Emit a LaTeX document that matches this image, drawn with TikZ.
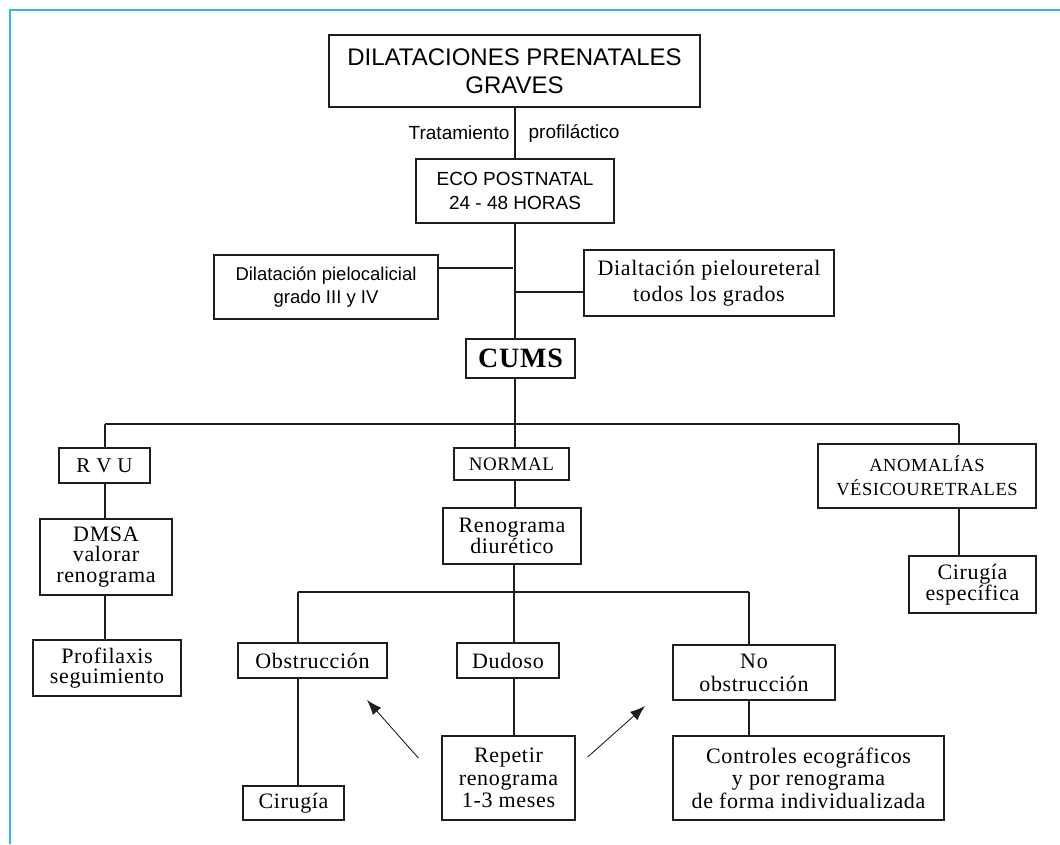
\documentclass[tikz,border=0pt]{standalone}
\usepackage{fontspec}
\setmainfont{Liberation Serif}
\setsansfont{Liberation Sans}
\newfontfamily\bmserif[LetterSpace=3]{Liberation Serif}
\usetikzlibrary{arrows.meta}
\definecolor{frameblue}{RGB}{51,181,229}
\definecolor{inkgray}{RGB}{30,30,30}
\tikzset{
  box/.style={draw=inkgray, line width=1.3pt, inner sep=0pt, align=center},
  sansbox/.style args={#1/#2}{box, font=\sffamily\fontsize{#1}{#2}\selectfont},
  serifbox/.style args={#1/#2}{box, font=\bmserif\fontsize{#1}{#2}\selectfont},
  link/.style={draw=inkgray, line width=1.3pt},
  hint/.style={draw=inkgray, line width=0.9pt, -{Latex[length=15pt,width=11pt]}}
}

\begin{document}
\begin{tikzpicture}[x=1pt,y=-1pt]
	\useasboundingbox (0,0) rectangle (1060,844);
	\draw[frameblue, line width=1.6pt] (10,844) -- (10,10) -- (1060,10);

	\node[sansbox=24/28, minimum width=371pt, minimum height=72pt] (Prenatal) at (514.5,71) {DILATACIONES PRENATALES\\GRAVES};
	\node[sansbox=19/24, minimum width=198pt, minimum height=64pt] (Eco) at (515,191) {ECO POSTNATAL\\24 - 48 HORAS};
	\node[sansbox=18.5/23, minimum width=224pt, minimum height=64pt] (Pielocalicial) at (326,287) {Dilatación pielocalicial\\grado III y IV};
	\node[serifbox=22/26, minimum width=250pt, minimum height=66pt] (Pieloureteral) at (709,283) {Dialtación pieloureteral\\todos los grados};
	\node[box, font=\bmserif\bfseries\fontsize{28}{30}\selectfont, minimum width=109pt, minimum height=39pt] (Cums) at (520.5,358.5) {CUMS};

	\node[serifbox=21/21, minimum width=91pt, minimum height=35pt] (Rvu) at (104.5,465.5) {R V U};
	\node[serifbox=19/21, minimum width=115pt, minimum height=32pt] (Normal) at (511.5,464) {NORMAL};
	\node[serifbox=18.5/24, minimum width=218pt, minimum height=64pt] (Anomalias) at (927,476) {ANOMALÍAS\\VÉSICOURETRALES};
	\node[serifbox=22/20.5, minimum width=132pt, minimum height=76pt] (Dmsa) at (106,557) {DMSA\\valorar\\renograma};
	\node[serifbox=22/20, minimum width=138pt, minimum height=56pt] (Renograma) at (512,536) {Renograma\\diurético};
	\node[serifbox=22/20, minimum width=127pt, minimum height=57pt] (CirugiaEsp) at (972.5,584.5) {Cirugía\\específica};
	\node[serifbox=22/20, minimum width=148pt, minimum height=56pt] (Profilaxis) at (107,668) {Profilaxis\\seguimiento};

	\node[serifbox=22/21, minimum width=149pt, minimum height=35pt] (Obstruccion) at (312.5,660.5) {Obstrucción};
	\node[serifbox=22/21, minimum width=102pt, minimum height=35pt] (Dudoso) at (508,660.5) {Dudoso};
	\node[serifbox=22/23, minimum width=162pt, minimum height=55pt] (NoObstruccion) at (754,672.5) {No\\obstrucción};
	\node[serifbox=22/21, minimum width=101pt, minimum height=34pt] (Cirugia) at (293.5,803) {Cirugía};
	\node[serifbox=22/22.5, minimum width=133pt, minimum height=84pt] (Repetir) at (508.5,778) {Repetir\\renograma\\1-3 meses};
	\node[serifbox=22/22.5, minimum width=271pt, minimum height=84pt] (Controles) at (808.5,778) {Controles ecográficos\\y por renograma\\de forma individualizada};

	\coordinate (JoinL) at (513,268);
	\coordinate (JoinR) at (515,292);
	\coordinate (BusLeft) at (105,424);
	\coordinate (BusMid) at (515,424);
	\coordinate (BusRight) at (959,424);
	\coordinate (SubLeft) at (298,592);
	\coordinate (SubMid) at (514,592);
	\coordinate (SubRight) at (749,592);
	\coordinate (TipL) at (367,700);
	\coordinate (TipR) at (645,706);

	\draw[link] (Prenatal.south -| Eco.north) -- node[anchor=east, inner sep=0pt, xshift=-5pt, font=\sffamily\fontsize{19}{23}\selectfont] (Trat) {Tratamiento} node[anchor=west, inner sep=0pt, xshift=13pt, font=\sffamily\fontsize{19}{23}\selectfont] (Prof) {profiláctico} (Eco.north);
	\draw[link] (Eco.south) -- (Eco.south |- Cums.north);
	\draw[link] (Pielocalicial.east |- JoinL) -- (JoinL);
	\draw[link] (JoinR) -- (JoinR -| Pieloureteral.west);

	\draw[link] (Cums.south -| BusMid) -- (BusMid);
	\draw[link] (BusLeft) -- (BusRight);
	\draw[link] (BusLeft) -- (Rvu.north -| BusLeft);
	\draw[link] (BusMid) -- (Normal.north -| BusMid);
	\draw[link] (BusRight) -- (Anomalias.north -| BusRight);
	\draw[link] (Rvu.south -| BusLeft) -- (Dmsa.north -| BusLeft);
	\draw[link] (Dmsa.south -| BusLeft) -- (Profilaxis.north -| BusLeft);
	\draw[link] (Normal.south -| BusMid) -- (Renograma.north -| BusMid);
	\draw[link] (Anomalias.south -| BusRight) -- (CirugiaEsp.north -| BusRight);

	\draw[link] (Renograma.south -| SubMid) -- (SubMid);
	\draw[link] (SubLeft) -- (SubRight);
	\draw[link] (SubLeft) -- (Obstruccion.north -| SubLeft);
	\draw[link] (SubMid) -- (Dudoso.north -| SubMid);
	\draw[link] (SubRight) -- (NoObstruccion.north -| SubRight);
	\draw[link] (Obstruccion.south -| SubLeft) -- (Cirugia.north -| SubLeft);
	\draw[link] (Dudoso.south -| SubMid) -- (Repetir.north -| SubMid);
	\draw[link] (NoObstruccion.south -| SubRight) -- (Controles.north -| SubRight);

	\draw[hint] ([shift={(-23,-20)}]Repetir.west) -- (TipL);
	\draw[hint] ([shift={(12,-21)}]Repetir.east) -- (TipR);
\end{tikzpicture}
\end{document}
